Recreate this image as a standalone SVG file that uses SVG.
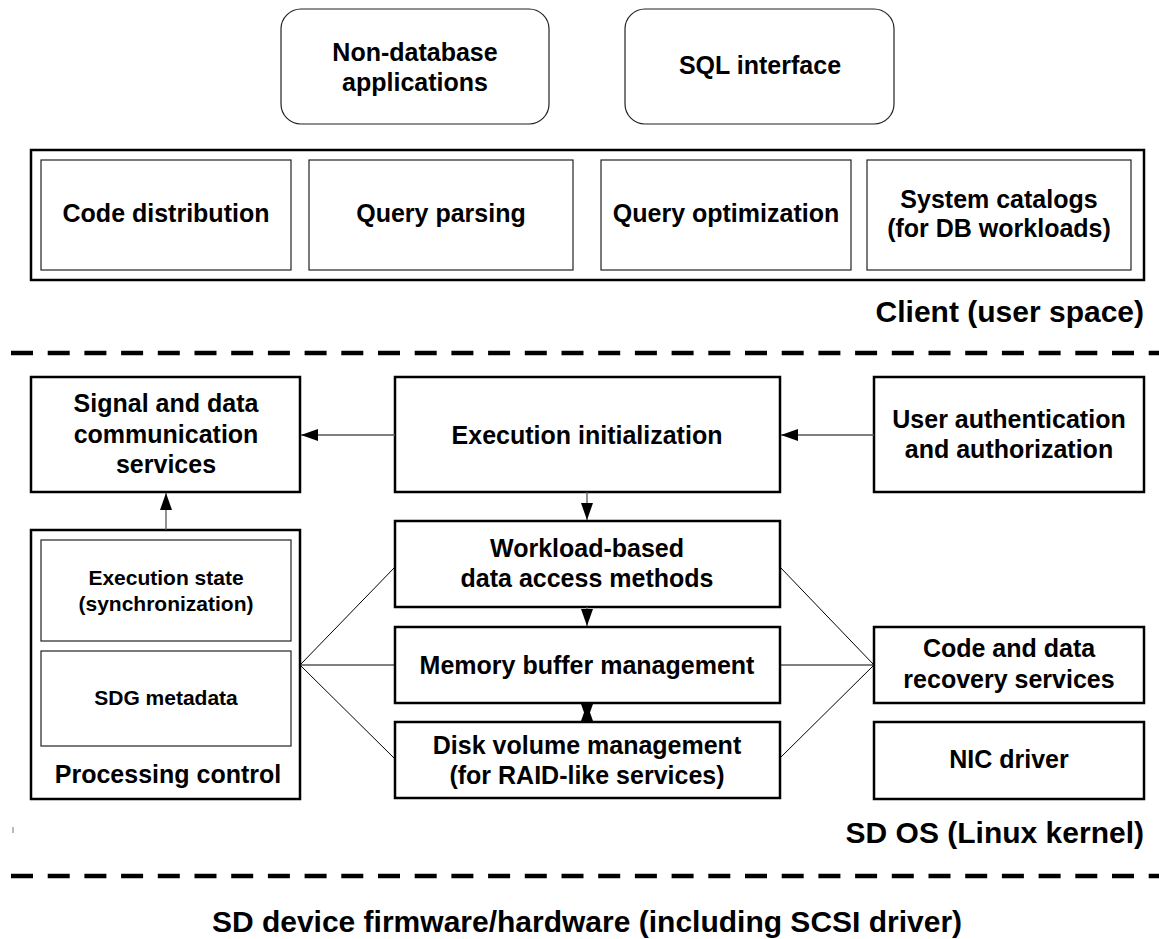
<svg xmlns="http://www.w3.org/2000/svg" width="1159" height="939" viewBox="0 0 1159 939">
<style>
text{font-family:"Liberation Sans",Arial,sans-serif;font-weight:bold;fill:#000;text-anchor:middle}
.t{font-size:25px}
.s{font-size:21px}
.l{font-size:30px}
.r{text-anchor:end}
.main{fill:#fff;stroke:#000;stroke-width:2.5}
.inner{fill:#fff;stroke:#222;stroke-width:1.2}
.round{fill:#fff;stroke:#222;stroke-width:1.2}
.dash{stroke:#000;stroke-width:4.5;stroke-dasharray:22 14.7;fill:none}
.arr{stroke:#555;stroke-width:1.3;fill:none}
.fan{stroke:#000;stroke-width:1;fill:none}
</style>
<defs>
<marker id="ah" markerUnits="userSpaceOnUse" markerWidth="18" markerHeight="13" refX="17" refY="6" orient="auto-start-reverse">
<path d="M0,0 L17,6 L0,12 z" fill="#000"/>
</marker>
</defs>

<g id="nondb"><rect class="round" x="281" y="9" width="268" height="115" rx="20"/><text class="t" x="415" y="61">Non-database</text><text class="t" x="415" y="91">applications</text></g>
<g id="sql"><rect class="round" x="625" y="9" width="269" height="115" rx="20"/><text class="t" x="760" y="74">SQL interface</text></g>

<g id="client">
<rect class="main" x="31" y="150" width="1113" height="130"/>
<text class="l r" x="1144" y="322">Client (user space)</text>
</g>
<g id="codedist"><rect class="inner" x="41" y="160" width="250" height="110"/><text class="t" x="166" y="222">Code distribution</text></g>
<g id="qparse"><rect class="inner" x="309" y="160" width="264" height="110"/><text class="t" x="441" y="222">Query parsing</text></g>
<g id="qopt"><rect class="inner" x="601" y="160" width="250" height="110"/><text class="t" x="726" y="222">Query optimization</text></g>
<g id="syscat"><rect class="inner" x="867" y="160" width="264" height="110"/><text class="t" x="999" y="208">System catalogs</text><text class="t" x="999" y="237">(for DB workloads)</text></g>

<line class="dash" x1="11" y1="353" x2="1159" y2="353"/>

<g id="signal"><rect class="main" x="31" y="377" width="269" height="115"/><text class="t" x="166" y="412">Signal and data</text><text class="t" x="166" y="443">communication</text><text class="t" x="166" y="473">services</text></g>
<g id="execinit"><rect class="main" x="395" y="377" width="385" height="115"/><text class="t" x="587" y="444">Execution initialization</text></g>
<g id="userauth"><rect class="main" x="874" y="377" width="270" height="115"/><text class="t" x="1009" y="428">User authentication</text><text class="t" x="1009" y="458">and authorization</text></g>

<g id="proc">
<rect class="main" x="31" y="530" width="269" height="269"/>
<text class="t" x="168" y="783">Processing control</text>
</g>
<g id="execstate"><rect class="inner" x="41" y="540" width="250" height="101"/><text class="s" x="166" y="585">Execution state</text><text class="s" x="166" y="611">(synchronization)</text></g>
<g id="sdg"><rect class="inner" x="41" y="651" width="250" height="95"/><text class="s" x="166" y="705">SDG metadata</text></g>

<g id="workload"><rect class="main" x="395" y="521" width="385" height="86"/><text class="t" x="587" y="557">Workload-based</text><text class="t" x="587" y="587">data access methods</text></g>
<g id="membuf"><rect class="main" x="395" y="627" width="385" height="76"/><text class="t" x="587" y="674">Memory buffer management</text></g>
<g id="disk"><rect class="main" x="395" y="722" width="385" height="76"/><text class="t" x="587" y="754">Disk volume management</text><text class="t" x="587" y="784">(for RAID-like services)</text></g>

<g id="recovery"><rect class="main" x="874" y="627" width="270" height="76"/><text class="t" x="1009" y="657">Code and data</text><text class="t" x="1009" y="688">recovery services</text></g>
<g id="nic"><rect class="main" x="874" y="722" width="270" height="77"/><text class="t" x="1009" y="768">NIC driver</text></g>

<g id="sdos"><text class="l r" x="1144" y="843">SD OS (Linux kernel)</text><line x1="13" y1="827" x2="13" y2="833" stroke="#777" stroke-width="1"/></g>

<line class="dash" x1="11" y1="876" x2="1159" y2="876"/>

<g id="firmware"><text class="l" x="587" y="932">SD device firmware/hardware (including SCSI driver)</text></g>

<g id="connectors">
<line class="arr" x1="395" y1="435" x2="301" y2="435" marker-end="url(#ah)"/>
<line class="arr" x1="874" y1="435" x2="781" y2="435" marker-end="url(#ah)"/>
<line class="arr" x1="166" y1="530" x2="166" y2="493" marker-end="url(#ah)"/>
<line class="arr" x1="587" y1="492" x2="587" y2="520" marker-end="url(#ah)"/>
<line class="arr" x1="587" y1="607" x2="587" y2="626" marker-end="url(#ah)"/>
<line class="arr" x1="587" y1="704" x2="587" y2="721" marker-start="url(#ah)" marker-end="url(#ah)"/>
<path class="fan" d="M395,567 L300,665 L395,665 M300,665 L395,759"/>
<path class="fan" d="M780,567 L874,665 L780,665 M874,665 L780,758"/>
</g>
</svg>
